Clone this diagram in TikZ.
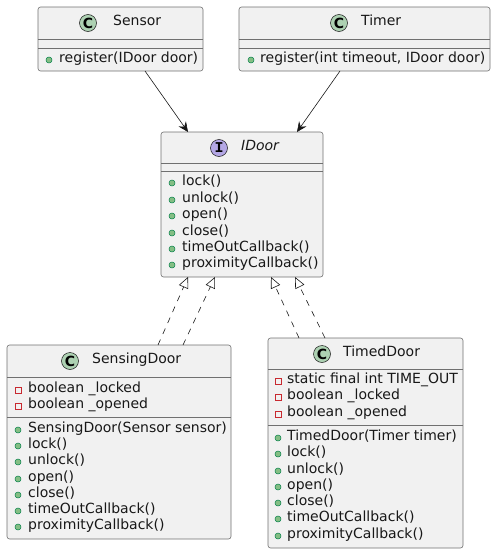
\documentclass[tikz,border=0pt]{standalone}
\usepackage{fontspec}
\setmainfont{DejaVu Sans}
\newfontfamily\iconmono{Liberation Mono}
\usetikzlibrary{arrows.meta}
\definecolor{boxfill}{HTML}{F1F1F1}
\definecolor{boxline}{HTML}{181818}
\definecolor{edgegray}{HTML}{707070}
\definecolor{cfill}{HTML}{ADD1B2}
\definecolor{ifill}{HTML}{B4A7E5}
\definecolor{pubfill}{HTML}{84BE84}
\definecolor{publine}{HTML}{038048}
\definecolor{privline}{HTML}{C82930}
\tikzset{
  umlbox/.style={draw=edgegray, fill=boxfill, line width=0.6pt, rounded corners=2.5pt, inner sep=0pt, outer sep=0pt, anchor=north west},
  sepline/.style={draw=edgegray, line width=0.6pt},
  txt/.style={anchor=mid west, inner sep=0pt, font=\fontsize{14}{16}\selectfont, text=boxline},
  cicon/.style={circle, draw=boxline, fill=cfill, line width=0.5pt, minimum size=17pt, inner sep=0pt, font=\fontsize{14}{14}\selectfont\bfseries},
  iicon/.style={circle, draw=boxline, fill=ifill, line width=0.5pt, minimum size=17pt, inner sep=0pt, font=\fontsize{15}{15}\selectfont\iconmono\bfseries},
  pub/.style={circle, draw=publine, fill=pubfill, line width=0.5pt, minimum size=6pt, inner sep=0pt},
  priv/.style={rectangle, draw=privline, fill=none, line width=0.6pt, minimum size=6pt, inner sep=0pt},
  assoc/.style={draw=boxline, line width=0.6pt, -{Stealth[length=10pt,width=9pt,inset=3.5pt]}},
  realize/.style={draw=boxline, line width=0.6pt, dash pattern=on 6pt off 6pt, -{Triangle[open,length=11pt,width=10pt]}}
}
\begin{document}
\begin{tikzpicture}[x=1pt,y=-1pt]
\useasboundingbox (0,0) rectangle (496,554);
% boxes
\node[umlbox, minimum width=165pt, minimum height=64pt] (sensor) at (38,7) {};
\node[umlbox, minimum width=251pt, minimum height=64pt] (timer) at (239,7) {};
\node[umlbox, minimum width=162pt, minimum height=145pt] (idoor) at (161,132) {};
\node[umlbox, minimum width=224pt, minimum height=194pt] (sensing) at (7,345) {};
\node[umlbox, minimum width=195pt, minimum height=210pt] (timed) at (268,338) {};

% Sensor
\node[cicon] (sensorI) at (88,23) {C};
\node[txt] (sensorN) at (113,23) {Sensor};
\draw[sepline] (sensor.west |- 0,39) -- (sensor.east |- 0,39);
\draw[sepline] (sensor.west |- 0,48) -- (sensor.east |- 0,48);
\node[pub] (sensorD1) at (49,60) {};
\node[txt] (sensorM1) at (59,60) {register(IDoor door)};

% Timer
\node[cicon] (timerI) at (339,23) {C};
\node[txt] (timerN) at (361,23) {Timer};
\draw[sepline] (timer.west |- 0,39) -- (timer.east |- 0,39);
\draw[sepline] (timer.west |- 0,48) -- (timer.east |- 0,48);
\node[pub] (timerD1) at (251,60) {};
\node[txt] (timerM1) at (260,60) {register(int timeout, IDoor door)};

% IDoor
\node[iicon] (idoorI) at (219,148) {I};
\node[txt, font=\fontsize{14}{16}\selectfont\itshape] (idoorN) at (241,148) {IDoor};
\draw[sepline] (idoor.west |- 0,163) -- (idoor.east |- 0,163);
\draw[sepline] (idoor.west |- 0,171) -- (idoor.east |- 0,171);
\foreach \y/\t [count=\i] in {183/lock(),200/unlock(),216/open(),233/close(),249/timeOutCallback(),265/proximityCallback()}{
  \node[pub] (idoorD\i) at (172,\y) {};
  \node[txt] (idoorM\i) at (182,\y) {\t};
}

% SensingDoor
\node[cicon] (sensingI) at (70,361) {C};
\node[txt] (sensingN) at (92,361) {SensingDoor};
\draw[sepline] (sensing.west |- 0,377) -- (sensing.east |- 0,377);
\node[priv] (sensingP1) at (18,390) {};
\node[txt] (sensingF1) at (28,390) {boolean \_locked};
\node[priv] (sensingP2) at (18,406) {};
\node[txt] (sensingF2) at (28,406) {boolean \_opened};
\draw[sepline] (sensing.west |- 0,417) -- (sensing.east |- 0,417);
\foreach \y/\t [count=\i] in {430/SensingDoor(Sensor sensor),446/lock(),462/unlock(),479/open(),495/close(),511/timeOutCallback(),527/proximityCallback()}{
  \node[pub] (sensingD\i) at (18,\y) {};
  \node[txt] (sensingM\i) at (28,\y) {\t};
}

% TimedDoor
\node[cicon] (timedI) at (322,354) {C};
\node[txt] (timedN) at (343,354) {TimedDoor};
\draw[sepline] (timed.west |- 0,369) -- (timed.east |- 0,369);
\node[priv] (timedP1) at (278,381) {};
\node[txt] (timedF1) at (287,381) {static final int TIME\_OUT};
\node[priv] (timedP2) at (278,397) {};
\node[txt] (timedF2) at (287,397) {boolean \_locked};
\node[priv] (timedP3) at (278,414) {};
\node[txt] (timedF3) at (287,414) {boolean \_opened};
\draw[sepline] (timed.west |- 0,425) -- (timed.east |- 0,425);
\foreach \y/\t [count=\i] in {438/TimedDoor(Timer timer),454/lock(),471/unlock(),487/open(),503/close(),519/timeOutCallback(),536/proximityCallback()}{
  \node[pub] (timedD\i) at (278,\y) {};
  \node[txt] (timedM\i) at (287,\y) {\t};
}

% connectors
\draw[assoc] ([xshift=107pt]sensor.south west) -- ([xshift=27pt]idoor.north west);
\draw[assoc] ([xshift=101pt]timer.south west) -- ([xshift=136pt]idoor.north west);
\draw[realize] ([xshift=151pt]sensing.north west) -- ([xshift=27pt]idoor.south west);
\draw[realize] ([xshift=176pt]sensing.north west) -- ([xshift=54pt]idoor.south west);
\draw[realize] ([xshift=31pt]timed.north west) -- ([xshift=110pt]idoor.south west);
\draw[realize] ([xshift=57pt]timed.north west) -- ([xshift=134pt]idoor.south west);
\end{tikzpicture}
\end{document}
